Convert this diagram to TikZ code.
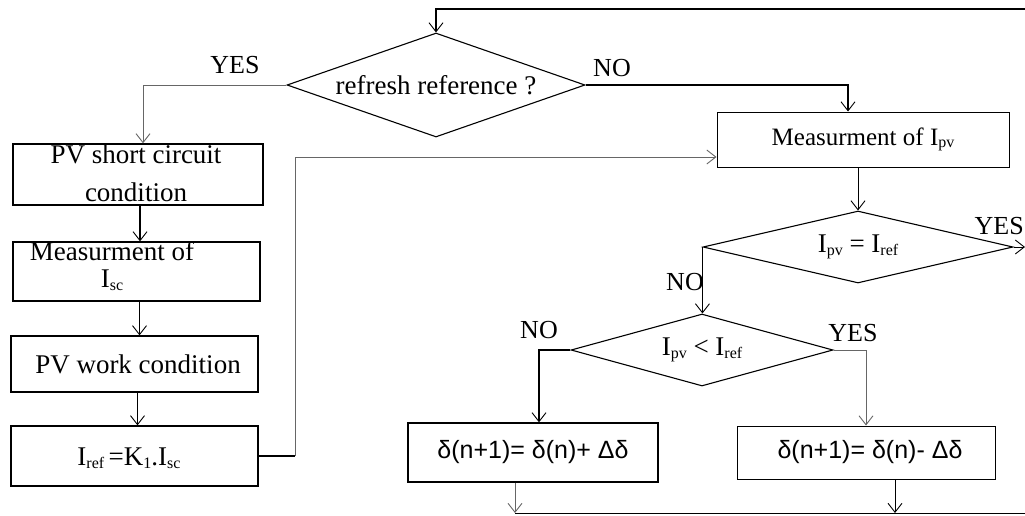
\documentclass[tikz,border=0pt]{standalone}
\usepackage{fontspec}
\setmainfont{Liberation Serif}
\newfontfamily\arialf{Liberation Sans}
\usetikzlibrary{arrows.meta,shapes.geometric}
\newcommand\lowsub[1]{\raisebox{-0.1em}{\fontsize{16}{16}\selectfont #1}}
\begin{document}
\begin{tikzpicture}[x=1pt,y=-1pt,
  box/.style={draw, line width=1.3pt, inner sep=0pt},
  dia/.style={draw, diamond, line width=1.1pt, inner sep=0pt, font=\fontsize{27}{30}\selectfont},
  conn/.style={line width=1pt},
  thick conn/.style={line width=1.5pt},
  thin conn/.style={line width=0.7pt, black!60},
  arr/.style={-{Straight Barb[length=9pt,width=14pt,line width=0.9pt]}},
  txt/.style={inner sep=0pt, align=center, font=\fontsize{27}{38}\selectfont},
  sanstxt/.style={inner sep=0pt, font=\arialf\fontsize{25}{30}\selectfont},
  lbl/.style={inner sep=0pt, font=\fontsize{26}{28}\selectfont}]
\useasboundingbox (0,0) rectangle (1025,515);

% left column boxes
\node[box, minimum width=250pt, minimum height=61pt] (b1) at (138,174.5) {};
\node[txt] (t1) at (136,173) {PV short circuit\\condition};
\node[box, minimum width=247pt, minimum height=59pt] (b2) at (136.5,271.5) {};
\node[txt, align=center, font=\fontsize{27}{27}\selectfont] (t2) at (112,266) {Measurment of\\I\lowsub{sc}};
\node[box, minimum width=247pt, minimum height=56pt] (b3) at (134.5,364) {};
\node[txt] (t3) at (138,364) {PV work condition};
\node[box, minimum width=247pt, minimum height=60pt] (b4) at (134.5,456) {};
\node[txt] (t4) at (129,458) {I\lowsub{ref}\,=K\lowsub{1}.I\lowsub{sc}};

% right part
\node[dia, aspect=2.87, minimum width=298pt, minimum height=104pt] (d1) at (436,85) {refresh reference ?};
\node[box, line width=1pt, minimum width=292pt, minimum height=55pt, font=\fontsize{25}{30}\selectfont] (mp) at (863,139.5) {Measurment of I\lowsub{pv}};
\node[dia, aspect=4.3, minimum width=310pt, minimum height=72pt] (d2) at (858,247) {I\lowsub{pv} = I\lowsub{ref}};
\node[dia, aspect=3.64, minimum width=262pt, minimum height=72pt] (d3) at (702,350) {I\lowsub{pv} < I\lowsub{ref}};
\node[box, minimum width=250pt, minimum height=59pt] (dl) at (533,452.5) {};
\node[sanstxt] (tl) at (533,452) {δ(n+1)= δ(n)+ Δδ};
\node[box, line width=1pt, minimum width=258pt, minimum height=53pt] (dr) at (866,452.5) {};
\node[sanstxt] (tr) at (870,452) {δ(n+1)= δ(n)- Δδ};

% labels
\node[lbl] (yes1) at (235,65) {YES};
\node[lbl] (no1) at (612,68) {NO};
\node[lbl, anchor=east] (yes2) at (1024,226) {YES};
\node[lbl] (no2) at (685,282) {NO};
\node[lbl] (no3) at (539,330) {NO};
\node[lbl] (yes3) at (853,333) {YES};

% free ends
\coordinate (topr) at (1025,9);
\coordinate (yesr) at (1025,247);
\coordinate (c1) at (295,456);
\coordinate (bl) at (515,513);
\coordinate (brr) at (895,513);
\coordinate (be) at (1025,513);

% connectors
\draw[thick conn, arr] (topr) -| (d1.north);
\draw[thin conn, arr] (d1.west) -| ([xshift=5pt]b1.north);
\draw[thick conn, arr] (d1.east) -| ([xshift=-15pt]mp.north);
\draw[thick conn, arr] ([xshift=2pt]b1.south) -- ([xshift=2pt]b1.south |- b2.north);
\draw[conn, arr] ([xshift=3pt]b2.south) -- ([xshift=3pt]b2.south |- b3.north);
\draw[conn, arr] ([xshift=3pt]b3.south) -- ([xshift=3pt]b3.south |- b4.north);
\draw[thick conn] (b4.east) -- (c1);
\draw[thin conn, arr] (c1) |- ([yshift=-17.5pt]mp.west);
\draw[conn, arr] (d2.north |- mp.south) -- (d2.north);
\draw[conn, arr] (d2.east) -- (yesr);
\draw[conn, arr] (d2.west) -- (d2.west |- d3.north);
\draw[thick conn, arr] (d3.west) -| ([xshift=6pt]dl.north);
\draw[thin conn, arr] (d3.east) -| (dr.north);
\draw[thin conn, arr] (dl.south -| bl) -- (bl);
\draw[conn, arr] (dr.south -| brr) -- (brr);
\draw[conn] (bl) -- (be);
\end{tikzpicture}
\end{document}
